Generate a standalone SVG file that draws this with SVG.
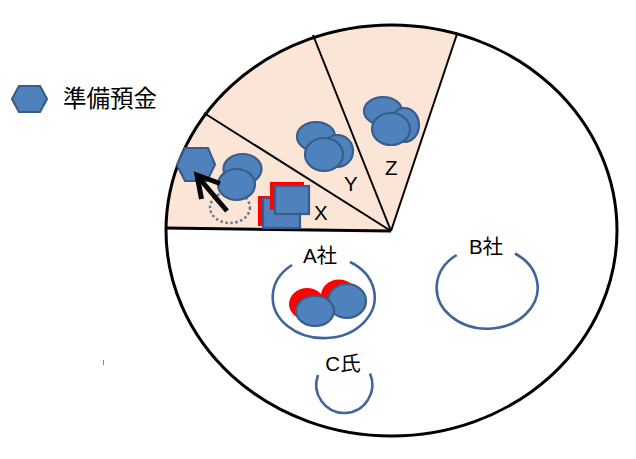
<svg xmlns="http://www.w3.org/2000/svg" width="636" height="459" viewBox="0 0 636 459">
<style>
.coin{fill:#4F81BD;stroke:#385D8A;stroke-width:2.2}
.red{fill:#FF0000;stroke:none}
.ring{fill:none;stroke:#41649A;stroke-width:2.6}
.lbl{font-family:"Liberation Sans","Noto Sans CJK JP",sans-serif;font-size:20.5px;fill:#000}
.sec{stroke:#000;stroke-width:2;fill:none}
</style>
<rect width="636" height="459" fill="#FFFFFF"/>
<g id="pie">
<ellipse cx="391.5" cy="230.5" rx="225.5" ry="205.5" fill="#FFFFFF"/>
<path d="M391,231 L166,228 A225.5,205.5 0 0 1 456,35 Z" fill="#FBE5D6"/>
<line class="sec" x1="391" y1="231" x2="204" y2="113"/>
<line class="sec" x1="391" y1="231" x2="313" y2="35"/>
<line class="sec" x1="391" y1="231" x2="457" y2="34"/>
<line x1="391" y1="231" x2="165" y2="228" stroke="#000" stroke-width="3"/>
<ellipse cx="391.5" cy="230.5" rx="225.5" ry="205.5" fill="none" stroke="#000" stroke-width="3"/>
</g>
<g id="legend">
<polygon class="coin" points="12,99 19,86 40,86 47,99 40,112 19,112"/>
<text class="lbl" x="63" y="107" style="font-size:23.5px">準備預金</text>
</g>
<g id="sector-X">
<ellipse cx="230" cy="207.5" rx="20" ry="15.5" fill="none" stroke="#6A7891" stroke-width="2.5" stroke-dasharray="2.5 2.5"/>
<polygon class="coin" points="177,165 185,148 208,148 215,164.5 207,181 185,181"/>
<ellipse class="coin" cx="242.5" cy="169" rx="19" ry="15"/>
<ellipse class="coin" cx="236.5" cy="184.5" rx="18.5" ry="15.5"/>
<rect class="red" x="258" y="196" width="37" height="30"/>
<rect class="coin" x="263" y="198" width="37" height="30"/>
<rect class="red" x="270" y="182" width="34" height="28"/>
<rect class="coin" x="275" y="186" width="34" height="28"/>
<text class="lbl" x="314" y="219.5">X</text>
</g>
<g id="sector-Y">
<ellipse class="coin" cx="316" cy="136.5" rx="19" ry="14.5"/>
<ellipse class="coin" cx="337.5" cy="151" rx="15.5" ry="16"/>
<ellipse class="coin" cx="324" cy="154.5" rx="19" ry="16.5"/>
<text class="lbl" x="344" y="190.5">Y</text>
</g>
<g id="sector-Z">
<ellipse class="coin" cx="383" cy="111" rx="19" ry="14"/>
<ellipse class="coin" cx="404.5" cy="125" rx="14.5" ry="17"/>
<ellipse class="coin" cx="391" cy="129" rx="19" ry="16"/>
<text class="lbl" x="385" y="174.5">Z</text>
</g>
<g id="company-A">
<path class="ring" d="M292,265 A51,41 0 1 0 350,262"/>
<text class="lbl" x="320" y="263" text-anchor="middle">A社</text>
<ellipse class="red" cx="339" cy="295.5" rx="18" ry="16"/>
<ellipse class="coin" cx="347" cy="301" rx="19" ry="17"/>
<ellipse class="red" cx="307" cy="304" rx="18" ry="16"/>
<ellipse class="coin" cx="315" cy="311" rx="19" ry="15"/>
</g>
<g id="company-B">
<path class="ring" d="M456.7,255 A50.5,41 0 1 0 515,253.5"/>
<text class="lbl" x="486" y="253.5" text-anchor="middle">B社</text>
</g>
<g id="person-C">
<path class="ring" d="M318,375 A28,28.3 0 1 0 370,373.5"/>
<text class="lbl" x="343" y="370.5" text-anchor="middle">C氏</text>
</g>
<g id="connectors">
<line x1="227" y1="211" x2="199" y2="178" stroke="#000" stroke-width="5"/>
<polyline points="201.5,199 197,175 220,183.5" fill="none" stroke="#000" stroke-width="5" stroke-linejoin="miter"/>
</g>
<line x1="103.5" y1="360" x2="103.5" y2="365" stroke="#888" stroke-width="1"/>
</svg>
